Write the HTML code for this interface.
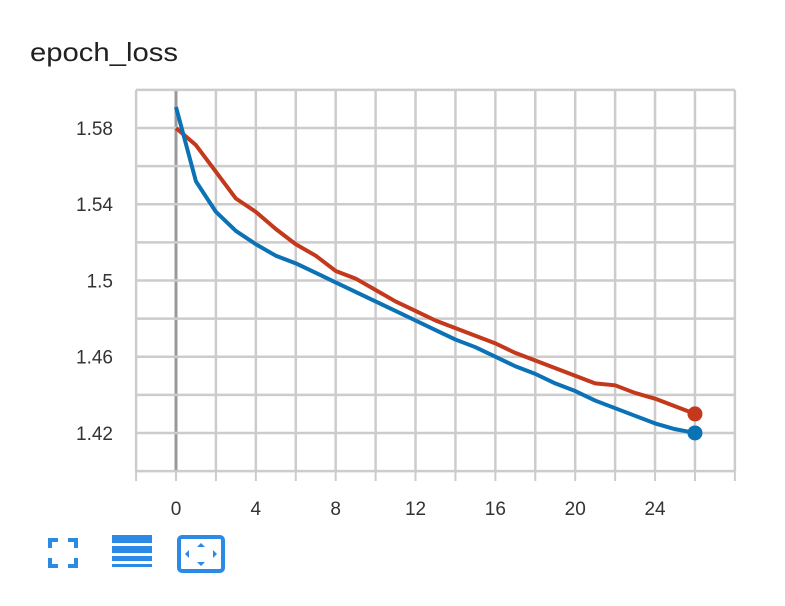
<!DOCTYPE html>
<html><head><meta charset="utf-8"><style>
body{margin:0;background:#fff;width:785px;height:601px;overflow:hidden;font-family:"Liberation Sans",sans-serif}
</style></head><body>
<svg width="785" height="601">
<text x="30" y="61" font-size="26" textLength="148" lengthAdjust="spacingAndGlyphs" fill="#212121">epoch_loss</text>
<g id="grid"></g>
<g id="axes"></g>
<g id="series"></g>
<g fill="none" stroke="#2a8ae6" stroke-width="4">
<path d="M50 548V540H58M68 540H76V548M76 558V566H68M58 566H50V558"/></g>
<g fill="#2a8ae6">
<rect x="112" y="535" width="40" height="8"/><rect x="112" y="546" width="40" height="7"/><rect x="112" y="556" width="40" height="5"/><rect x="112" y="564" width="40" height="3"/></g>
<g>
<rect x="179" y="537" width="44" height="34" rx="3" fill="none" stroke="#2a8ae6" stroke-width="4"/>
<path d="M201 543l-4 4h8zM201 566l-4-4h8zM185 554l4-4v8zM217 554l-4-4v8z" fill="#2a8ae6"/></g>
</svg>
<script>
const epochs=[0,1,2,3,4,5,6,7,8,9,10,11,12,13,14,15,16,17,18,19,20,21,22,23,24,25,26];
const trainLoss=[1.591,1.552,1.536,1.526,1.519,1.513,1.509,1.504,1.499,1.494,1.489,1.484,1.479,1.474,1.469,1.465,1.460,1.455,1.451,1.446,1.442,1.437,1.433,1.429,1.425,1.422,1.420];
const valLoss=[1.580,1.571,1.557,1.543,1.536,1.527,1.519,1.513,1.505,1.501,1.495,1.489,1.484,1.479,1.475,1.471,1.467,1.462,1.458,1.454,1.450,1.446,1.445,1.441,1.438,1.434,1.430];
const xTicks=[0,4,8,12,16,20,24];
const yTicks=[1.42,1.46,1.5,1.54,1.58];
const NS="http://www.w3.org/2000/svg";
const X=v=>176+v*19.96, Y=v=>128-(v-1.58)*1906;
function mk(tag,attrs,parent){const e=document.createElementNS(NS,tag);for(const k in attrs)e.setAttribute(k,attrs[k]);parent.appendChild(e);return e;}
const grid=document.getElementById('grid'),axes=document.getElementById('axes'),series=document.getElementById('series');
for(let v=-2;v<=28;v+=2){const l=mk('line',{x1:X(v),x2:X(v),y1:90,y2:471,stroke:v===0?'#999':'#ccc','stroke-width':v===0?3:2.5},grid);


const t=mk('line',{x1:X(v),x2:X(v),y1:471,y2:481,stroke:'#ccc','stroke-width':2},axes);

}
for(let i=0;i<=10;i++){const v=1.40+i*0.02;const l=mk('line',{x1:136,x2:735,y1:Y(v),y2:Y(v),stroke:'#ccc','stroke-width':2.5},grid);

}
xTicks.forEach(v=>{const t=mk('text',{x:X(v),y:515,'text-anchor':'middle','font-size':19,fill:'#333'},axes);t.textContent=v;

});
yTicks.forEach(v=>{const t=mk('text',{x:113,y:Y(v)+7,'text-anchor':'end','font-size':19,fill:'#333'},axes);t.textContent=String(v);

});
function draw(vals,color,name){const p=mk('polyline',{points:vals.map((v,i)=>X(epochs[i])+','+Y(v)).join(' '),fill:'none',stroke:color,'stroke-width':4,'stroke-linejoin':'round'},series);


const n=vals.length-1;const c=mk('circle',{cx:X(epochs[n]),cy:Y(vals[n]),r:7.5,fill:color},series);

}
draw(valLoss,'#c4391c','validation');
draw(trainLoss,'#0b72b5','train');
</script>
</body></html>
